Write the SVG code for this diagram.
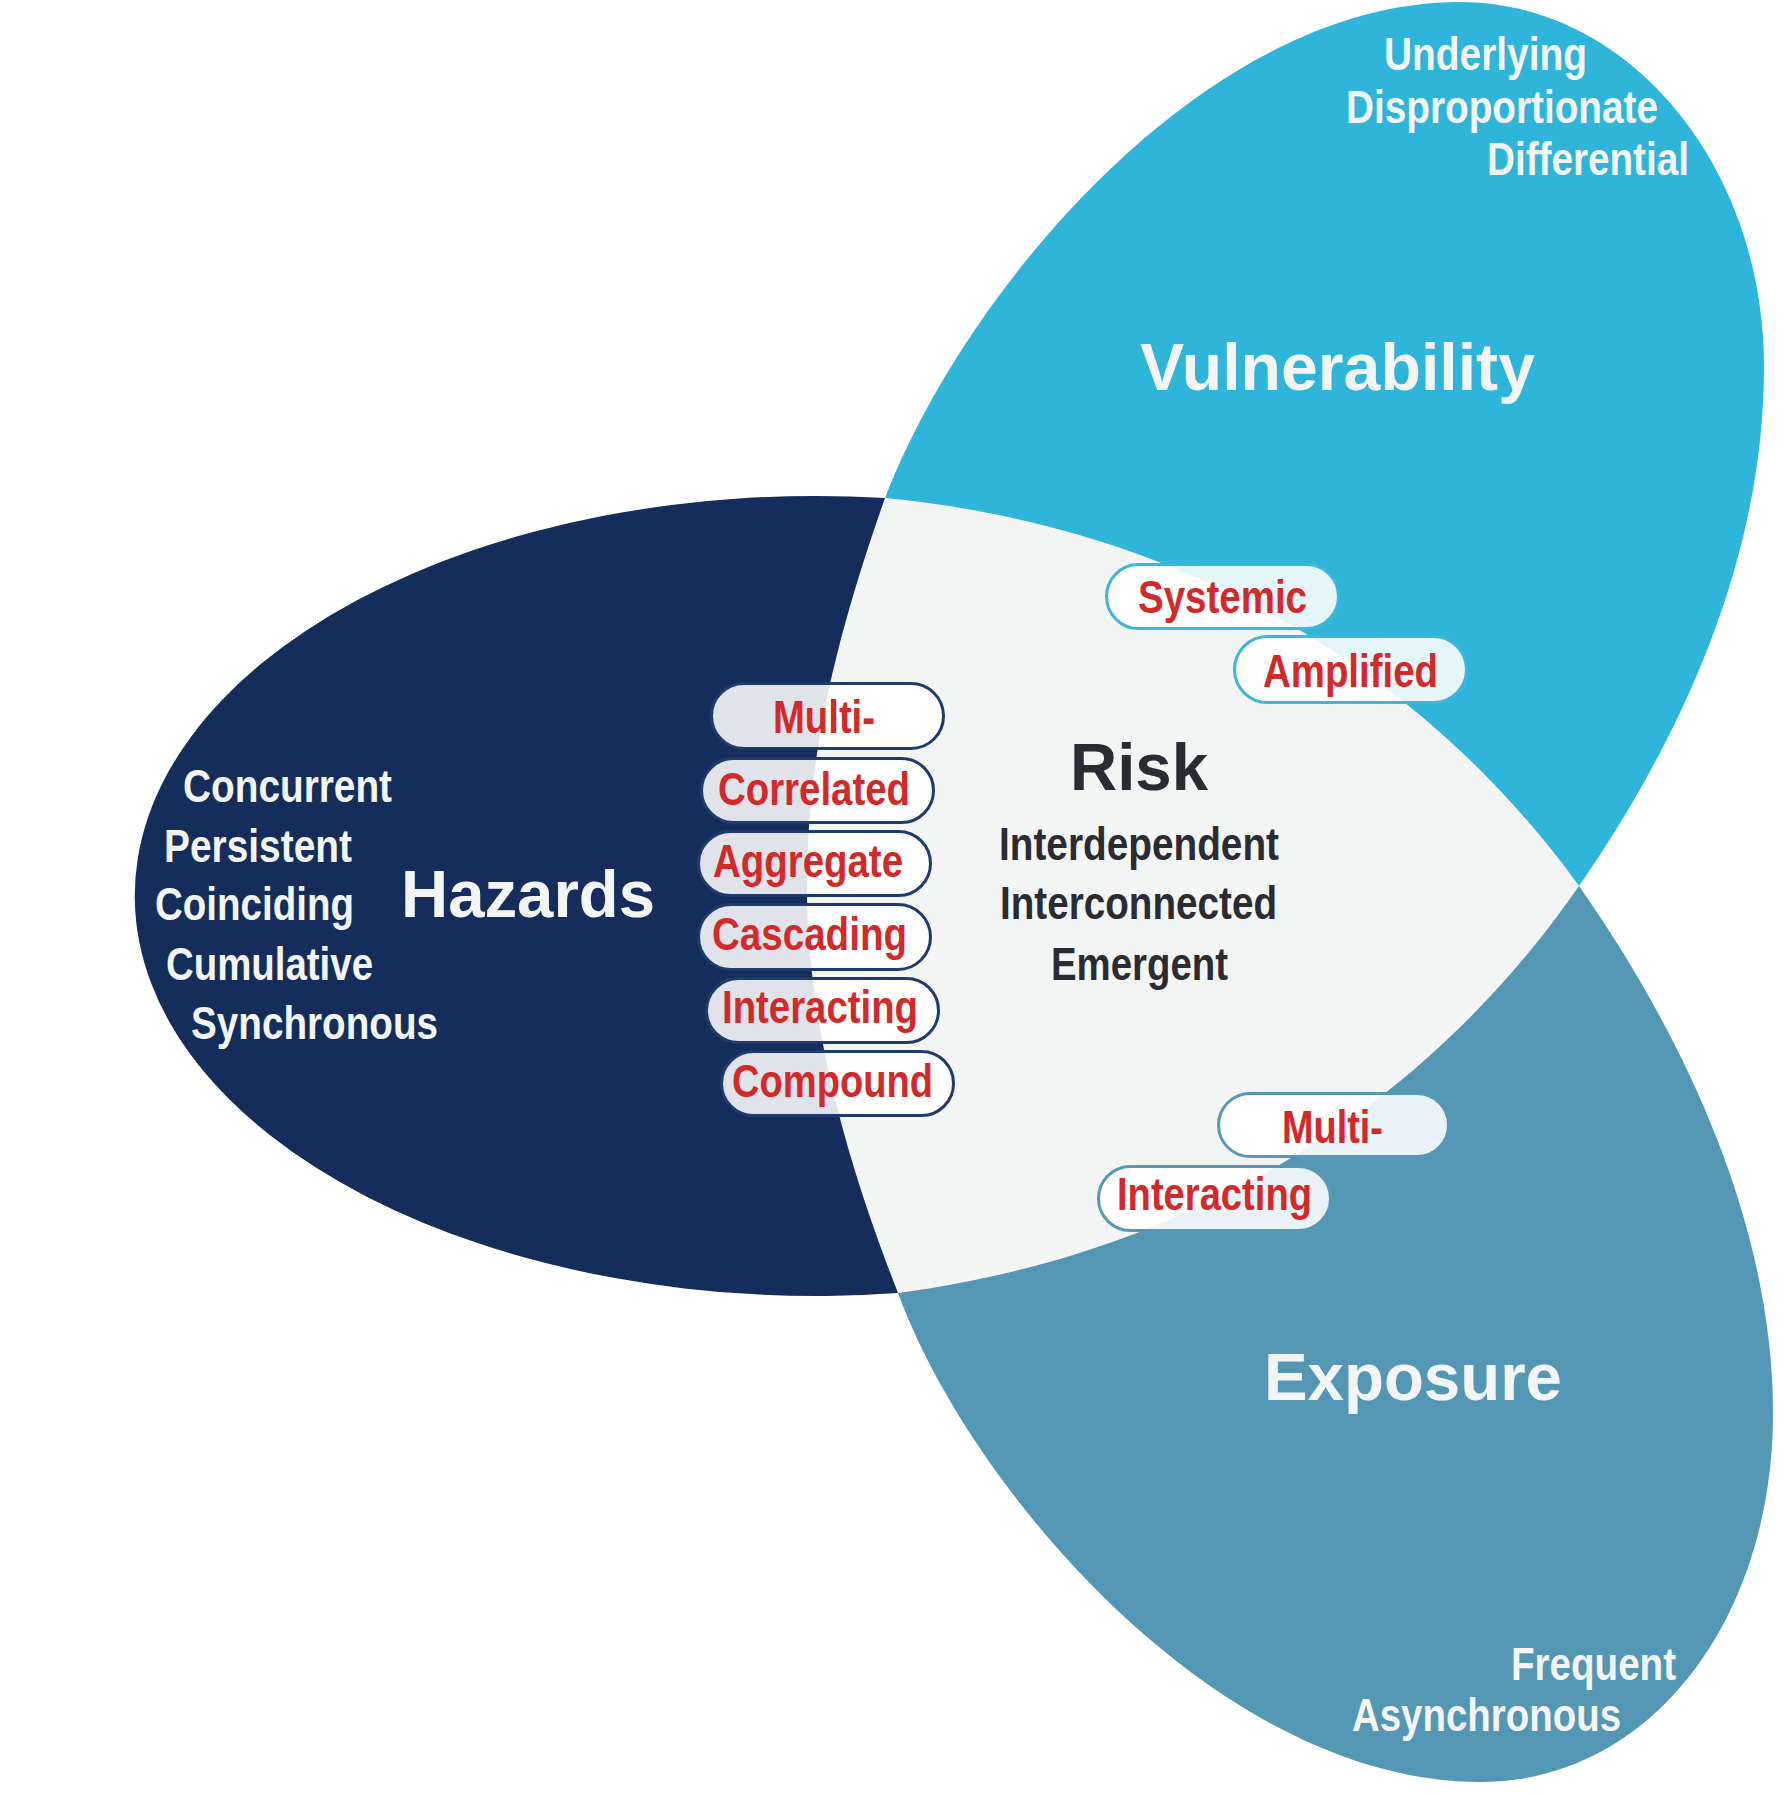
<svg xmlns="http://www.w3.org/2000/svg" width="1785" height="1796" viewBox="0 0 1785 1796">
<style>
.lbl{font-family:"Liberation Sans Narrow","Liberation Sans",Arial,sans-serif;font-weight:bold;font-size:46px}
.ttl{font-family:"Liberation Sans",Arial,sans-serif;font-weight:bold;font-size:66px}
.w{fill:#f3f5f5}
.r{fill:#d22a2a}
.d{fill:#2b2b33}
.pill{fill:#ffffff;fill-opacity:0.87;stroke-width:3}
.ph{stroke:#1f3b6e}
.pv{stroke:#3cb6da}
.pe{stroke:#5698b6}
</style>
<rect width="1785" height="1796" fill="#ffffff"/>
<g id="vulnerability">
<path d="M 885 498 C 960 300, 1200 2, 1460 2 C 1628 2, 1764 165, 1764 367 C 1764 560, 1680 740, 1579 886 Z" fill="#2fb5d9"/>
</g>
<g id="exposure">
<path d="M 898 1293 C 970 1490, 1220 1782, 1480 1782 C 1650 1782, 1773 1620, 1773 1413 C 1773 1220, 1680 1030, 1579 886 Z" fill="#5397b5"/>
</g>
<g id="hazards">
<path d="M 885 498 A 681 400 0 1 0 898 1293 Z" fill="#142d5b"/>
</g>
<g id="risk">
<path d="M 885 498 C 1120 520, 1390 625, 1579 886 C 1390 1159, 1120 1264, 898 1293 C 850 1170, 808 1030, 807 893 C 806 760, 835 640, 885 498 Z" fill="#f3f5f5"/>
</g>
<g id="vulnerability-text">
<text class="lbl w" x="1384" y="70" textLength="203" lengthAdjust="spacingAndGlyphs">Underlying</text>
<text class="lbl w" x="1346" y="123" textLength="312" lengthAdjust="spacingAndGlyphs">Disproportionate</text>
<text class="lbl w" x="1487" y="175" textLength="202" lengthAdjust="spacingAndGlyphs">Differential</text>
<text class="ttl w" x="1140" y="390" textLength="395" lengthAdjust="spacingAndGlyphs">Vulnerability</text>
</g>
<g id="hazards-text">
<text class="lbl w" x="183" y="802" textLength="209" lengthAdjust="spacingAndGlyphs">Concurrent</text>
<text class="lbl w" x="164" y="862" textLength="188" lengthAdjust="spacingAndGlyphs">Persistent</text>
<text class="lbl w" x="155" y="920" textLength="199" lengthAdjust="spacingAndGlyphs">Coinciding</text>
<text class="lbl w" x="166" y="980" textLength="207" lengthAdjust="spacingAndGlyphs">Cumulative</text>
<text class="lbl w" x="191" y="1039" textLength="247" lengthAdjust="spacingAndGlyphs">Synchronous</text>
<text class="ttl w" x="401" y="917" textLength="254" lengthAdjust="spacingAndGlyphs">Hazards</text>
</g>
<g id="exposure-text">
<text class="ttl w" x="1264" y="1400" textLength="298" lengthAdjust="spacingAndGlyphs">Exposure</text>
<text class="lbl w" x="1511" y="1680" textLength="165" lengthAdjust="spacingAndGlyphs">Frequent</text>
<text class="lbl w" x="1352" y="1731" textLength="269" lengthAdjust="spacingAndGlyphs">Asynchronous</text>
</g>
<g id="risk-text">
<text class="ttl d" x="1070" y="790" textLength="138" lengthAdjust="spacingAndGlyphs">Risk</text>
<text class="lbl d" x="999" y="860" textLength="280" lengthAdjust="spacingAndGlyphs">Interdependent</text>
<text class="lbl d" x="1000" y="919" textLength="277" lengthAdjust="spacingAndGlyphs">Interconnected</text>
<text class="lbl d" x="1051" y="980" textLength="177" lengthAdjust="spacingAndGlyphs">Emergent</text>
</g>
<g id="pill-hazard-multi"><rect class="pill ph" x="711.5" y="683.5" width="232" height="65" rx="32.5"/><text class="lbl r" x="773" y="733" textLength="102" lengthAdjust="spacingAndGlyphs">Multi-</text></g>
<g id="pill-correlated"><rect class="pill ph" x="701.5" y="758.5" width="232" height="64" rx="32"/><text class="lbl r" x="718" y="805" textLength="192" lengthAdjust="spacingAndGlyphs">Correlated</text></g>
<g id="pill-aggregate"><rect class="pill ph" x="698.5" y="831.5" width="232" height="64" rx="32"/><text class="lbl r" x="713" y="877" textLength="190" lengthAdjust="spacingAndGlyphs">Aggregate</text></g>
<g id="pill-cascading"><rect class="pill ph" x="698.5" y="904.5" width="232" height="65" rx="32.5"/><text class="lbl r" x="712" y="950" textLength="195" lengthAdjust="spacingAndGlyphs">Cascading</text></g>
<g id="pill-hazard-interacting"><rect class="pill ph" x="706.5" y="978.5" width="232" height="64" rx="32"/><text class="lbl r" x="722" y="1023" textLength="196" lengthAdjust="spacingAndGlyphs">Interacting</text></g>
<g id="pill-compound"><rect class="pill ph" x="721.5" y="1051.5" width="232" height="64" rx="32"/><text class="lbl r" x="732" y="1097" textLength="201" lengthAdjust="spacingAndGlyphs">Compound</text></g>
<g id="pill-systemic"><rect class="pill pv" x="1106.5" y="564.5" width="232" height="64" rx="32"/><text class="lbl r" x="1138" y="613" textLength="169" lengthAdjust="spacingAndGlyphs">Systemic</text></g>
<g id="pill-amplified"><rect class="pill pv" x="1234.5" y="636.5" width="232" height="66" rx="33"/><text class="lbl r" x="1263" y="687" textLength="175" lengthAdjust="spacingAndGlyphs">Amplified</text></g>
<g id="pill-exposure-multi"><rect class="pill pe" x="1218.5" y="1093.5" width="230" height="63" rx="31.5"/><text class="lbl r" x="1282" y="1143" textLength="101" lengthAdjust="spacingAndGlyphs">Multi-</text></g>
<g id="pill-exposure-interacting"><rect class="pill pe" x="1098.5" y="1166.5" width="232" height="64" rx="32"/><text class="lbl r" x="1117" y="1210" textLength="195" lengthAdjust="spacingAndGlyphs">Interacting</text></g>
</svg>
